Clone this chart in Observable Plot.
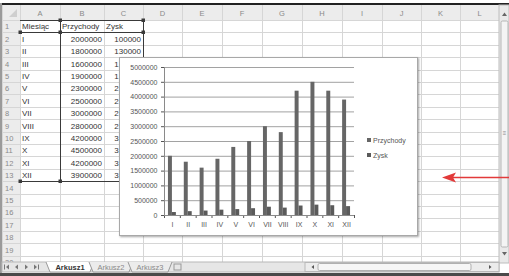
<!DOCTYPE html>
<html><head><meta charset="utf-8">
<script src="https://cdn.jsdelivr.net/npm/d3@7"></script>
<script src="https://cdn.jsdelivr.net/npm/@observablehq/plot@0.6"></script>
<style>
body{margin:0;background:#fff;}
#sheet{position:relative;width:509px;height:276px;overflow:hidden;font-family:"Liberation Sans",Arial,sans-serif;background:#fff;}
#chartbox{position:absolute;left:119px;top:57px;width:297px;height:177px;background:#fff;border:1px solid #a8a8a8;box-shadow:1px 1px 2px rgba(0,0,0,0.35);}
#chartbox svg{position:absolute;left:0;top:0;}
.leg{position:absolute;font-size:7px;color:#555;line-height:8px;white-space:nowrap;}
.leg span{display:inline-block;width:4px;height:4px;margin-right:2px;vertical-align:1px;}
</style></head><body><div id="sheet"></div>
<script>
// ---- data ----
const months = ["I","II","III","IV","V","VI","VII","VIII","IX","X","XI","XII"];
const przychody = [2000000,1800000,1600000,1900000,2300000,2500000,3000000,2800000,4200000,4500000,4200000,3900000];
const zysk = [100000,130000,150000,180000,200000,230000,280000,250000,320000,350000,330000,300000];
const seriesNames = ["Przychody","Zysk"];
const headerLabels = ["Miesiąc","Przychody","Zysk"];
const columnLetters = ["A","B","C","D","E","F","G","H","I","J","K","L"];
const sheetTabs = ["Arkusz1","Arkusz2","Arkusz3"];
const yTicks = d3.range(0, 5000001, 500000);

// ---- spreadsheet background ----
const root = d3.select("#sheet");
const W = 509, H = 276;
const colEdges = [2,20,60,104,143,182,222,262,302,342,382,421,460,499];
const rowTop = r => 20 + (r - 1) * 12.4;
const chartLeft = 119, chartTop = 57;
const bg = root.append("svg").attr("width", W).attr("height", H).style("position","absolute").style("left",0).style("top",0)
  .style("font-family","Liberation Sans, Arial, sans-serif");
bg.append("rect").attr("width",W).attr("height",H).attr("fill","#fff");
// header row and column
bg.append("rect").attr("x",2).attr("y",5).attr("width",497).attr("height",15).attr("fill","#ececec");
bg.append("rect").attr("x",2).attr("y",5).attr("width",18).attr("height",260).attr("fill","#ececec");
bg.append("path").attr("d","M9,17 L17,17 L17,9 Z").attr("fill","#cfcfcf");
// grid lines
for (let r = 1; r <= 21; r++) {
  const y = Math.round(rowTop(r)) + 0.5;
  bg.append("line").attr("x1",2).attr("x2",499).attr("y1",y).attr("y2",y).attr("stroke","#d6d6d6");
}
colEdges.forEach(x => bg.append("line").attr("x1",x+0.5).attr("x2",x+0.5).attr("y1",5).attr("y2",262).attr("stroke","#d6d6d6"));
// column letters
columnLetters.forEach((c,i) => bg.append("text").attr("x",(colEdges[i+1]+colEdges[i+2])/2).attr("y",15.5)
  .attr("text-anchor","middle").attr("font-size",7.5).attr("fill","#8a8a8a").text(c));
// row numbers
for (let r = 1; r <= 20; r++) {
  bg.append("text").attr("x",5).attr("y",rowTop(r)+9.3).attr("font-size",7.5).attr("fill","#8a8a8a").text(r);
}
// cell contents
const cell = (txt, col, row, right) => bg.append("text")
  .attr("x", right ? colEdges[col+2]-2 : colEdges[col+1]+2).attr("y", rowTop(row)+9.3)
  .attr("text-anchor", right ? "end" : "start").attr("font-size",8).attr("fill","#333").text(txt);
headerLabels.forEach((h,i) => cell(h, i, 1, false));
months.forEach((m,i) => {
  cell(m,0,i+2,false);
  cell(String(przychody[i]),1,i+2,true);
  const row = i + 2;
  if (rowTop(row) + 10 < chartTop) {
    cell(String(zysk[i]),2,row,true);
  } else {
    // only the part left of the chart box is visible: the leading digit
    const full = String(zysk[i]);
    const startX = colEdges[4] - 2 - full.length * 4.45;
    bg.append("text").attr("x", startX).attr("y", rowTop(row)+9.3).attr("font-size",8).attr("fill","#333").text(full.slice(0,1));
  }
});
// data-range outlines
const dark = "#3a3a3a";
const ln = (x1,y1,x2,y2) => bg.append("line").attr("x1",x1).attr("y1",y1).attr("x2",x2).attr("y2",y2).attr("stroke",dark).attr("stroke-width",1);
ln(60.5,20,60.5,181.5); ln(20,32.5,143,32.5); ln(20,181.5,143,181.5); ln(143.5,20,143.5,60); ln(20,20.5,143,20.5);
[[20,32],[60,32],[143,32],[20,181],[60,181],[60,20],[143,20]].forEach(([x,y]) =>
  bg.append("rect").attr("x",x-1.5).attr("y",y-1.5).attr("width",3.5).attr("height",3.5).attr("fill",dark));
// top frame line / borders
bg.append("rect").attr("x",0).attr("y",3).attr("width",W).attr("height",2).attr("fill","#222");
bg.append("rect").attr("x",0).attr("y",3).attr("width",2).attr("height",270).attr("fill","#9a9a9a");
// vertical scrollbar
bg.append("rect").attr("x",499).attr("y",5).attr("width",10).attr("height",258).attr("fill","#e9e9e9").attr("stroke","#bdbdbd");
bg.append("rect").attr("x",501).attr("y",21).attr("width",7).attr("height",226).attr("fill","#f4f4f4").attr("stroke","#b5b5b5").attr("rx",1.5);
bg.append("path").attr("d","M502,16 L504.5,12.5 L507,16 Z").attr("fill","#666");
bg.append("path").attr("d","M502,252 L504.5,255.5 L507,252 Z").attr("fill","#666");
bg.append("text").attr("x",504.5).attr("y",135).attr("text-anchor","middle").attr("font-size",6).attr("fill","#888").text("≡");
// tab bar
bg.append("rect").attr("x",2).attr("y",262).attr("width",497).attr("height",10).attr("fill","#e6e6e6").attr("stroke","#b8b8b8");
const navX = [6,15,25,34];
navX.forEach((x,i) => {
  const d = i < 2 ? `M${x+3},264.5 L${x},267 L${x+3},269.5 Z` : `M${x},264.5 L${x+3},267 L${x},269.5 Z`;
  bg.append("path").attr("d",d).attr("fill","#777");
});
bg.append("line").attr("x1",4.5).attr("x2",4.5).attr("y1",264.5).attr("y2",269.5).attr("stroke","#777");
bg.append("line").attr("x1",38.5).attr("x2",38.5).attr("y1",264.5).attr("y2",269.5).attr("stroke","#777");
const tabX = [46, 89, 128];
sheetTabs.forEach((t,i) => {
  const x = tabX[i], w = i === 0 ? 44 : 40;
  bg.append("path").attr("d",`M${x},262 L${x+4},272 L${x+w},272 L${x+w+4},262`).attr("fill", i===0 ? "#fff" : "#ececec").attr("stroke","#9a9a9a");
  bg.append("text").attr("x",x+w/2+2).attr("y",270.3).attr("text-anchor","middle").attr("font-size",7.5)
    .attr("font-weight", i===0 ? "bold" : "normal").attr("fill", i===0 ? "#333" : "#8a8a8a").text(t);
});
bg.append("rect").attr("x",174).attr("y",264).attr("width",7).attr("height",6).attr("fill","none").attr("stroke","#999");
// horizontal scrollbar
bg.append("rect").attr("x",305).attr("y",262.5).attr("width",194).attr("height",9).attr("fill","#ececec").attr("stroke","#b8b8b8");
bg.append("rect").attr("x",318).attr("y",263.5).attr("width",153).attr("height",7).attr("fill","#f6f6f6").attr("stroke","#b0b0b0").attr("rx",1.5);
bg.append("path").attr("d","M314,265 L311.5,267 L314,269 Z").attr("fill","#555");
bg.append("path").attr("d","M489,265 L491.5,267 L489,269 Z").attr("fill","#555");
bg.append("rect").attr("x",0).attr("y",273).attr("width",W).attr("height",3).attr("fill","#4a4a4a");

// ---- chart ----
const data = months.map((m,i) => ({month: m, idx: i, przychody: przychody[i], zysk: zysk[i]}));
const box = root.append("div").attr("id","chartbox");
const chart = Plot.plot({
  width: 240, height: 177,
  marginLeft: 44, marginRight: 6, marginTop: 9, marginBottom: 20,
  style: {fontFamily: "Liberation Sans, Arial, sans-serif", fontSize: "7px", color: "#555", background: "transparent"},
  x: {type: "linear", domain: [0, months.length], ticks: d3.range(0, months.length + 1), tickFormat: () => "", tickSize: 3, label: null},
  y: {domain: [0, 5000000], ticks: yTicks, tickFormat: d => String(d), tickSize: 3, tickPadding: 4, label: null},
  marks: [
    Plot.ruleY(yTicks, {stroke: "#a2a2a2", strokeWidth: 1}),
    Plot.rectY(data, {x1: d => d.idx + 0.25, x2: d => d.idx + 0.5, y: "przychody", fill: "#666666"}),
    Plot.rectY(data, {x1: d => d.idx + 0.5, x2: d => d.idx + 0.75, y: "zysk", fill: "#5a5a5a"}),
    Plot.ruleX([0], {stroke: "#8a8a8a"}),
    Plot.ruleY([0], {stroke: "#8a8a8a"}),
    Plot.text(data, {x: d => d.idx + 0.5, text: "month", frameAnchor: "bottom", dy: 11, fill: "#555"})
  ]
});
box.node().appendChild(chart);
// legend
const legColors = ["#666666", "#5a5a5a"];
seriesNames.forEach((s,i) => {
  const item = box.append("div").attr("class","leg").style("left","247px").style("top", (79 + i*15) + "px");
  item.append("span").style("background", legColors[i]);
  item.append("tt").style("font-family","inherit").text(s);
});

// ---- red arrow ----
const ov = root.append("svg").attr("width", W).attr("height", H).style("position","absolute").style("left",0).style("top",0).style("pointer-events","none");
ov.append("line").attr("x1",452).attr("x2",509).attr("y1",177.5).attr("y2",177.5).attr("stroke","#e23a3a").attr("stroke-width",1.3);
ov.append("path").attr("d","M442,177.5 L456,172.5 L453,177.5 L456,182.5 Z").attr("fill","#e23a3a");
</script></body></html>
